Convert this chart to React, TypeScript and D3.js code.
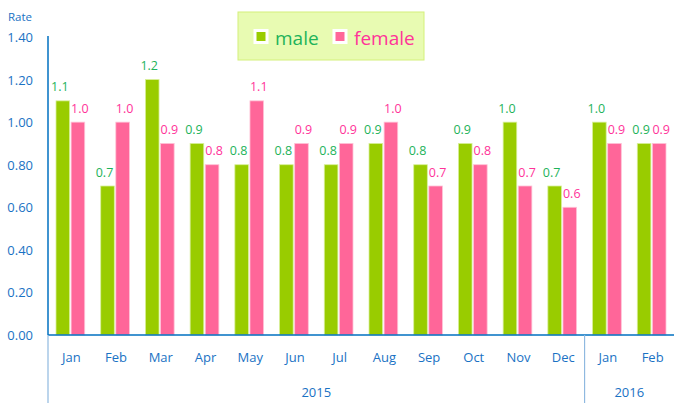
import React from "react";
import * as d3 from "d3";

const months = ["Jan","Feb","Mar","Apr","May","Jun","Jul","Aug","Sep","Oct","Nov","Dec","Jan","Feb"];
const maleValues = [1.1,0.7,1.2,0.9,0.8,0.8,0.8,0.9,0.8,0.9,1.0,0.7,1.0,0.9];
const femaleValues = [1.0,1.0,0.9,0.8,1.1,0.9,0.9,1.0,0.7,0.8,0.7,0.6,0.9,0.9];
const yTicks = [0,0.2,0.4,0.6,0.8,1.0,1.2,1.4];
const years = [{ label: "2015", start: 0, end: 12 }, { label: "2016", start: 12, end: 14 }];

const W = 674, H = 403;
const FONT = "'Open Sans', 'Noto Sans', sans-serif";
const AXIS = "#1a72c4";
const MALE = "#99cc00";
const FEMALE = "#ff6699";
const MALE_TXT = "#1db35a";
const FEMALE_TXT = "#ff3399";

export default function App() {
  const left = 48, right = 674, top = 37, bottom = 335;
  const x = d3.scaleBand<number>().domain(d3.range(months.length)).range([left, right]).paddingInner(0).paddingOuter(0);
  const y = d3.scaleLinear().domain([0, 1.4]).range([bottom, top]);
  const inner = d3.scaleBand<string>().domain(["m", "f"]).range([8, x.bandwidth() - 8]).paddingInner(0.1);
  const bw = inner.bandwidth();

  return (
    <svg width={W} height={H} style={{ position: "absolute", left: 0, top: 0 }} fontFamily={FONT}>
      <rect width={W} height={H} fill="#fff" />
      <text x={8} y={21} fontSize={11.5} fill={AXIS}>Rate</text>
      {yTicks.map((t) => (
        <text key={t} x={33} y={y(t) + 5} fontSize={13} fill={AXIS} textAnchor="end">{t.toFixed(2)}</text>
      ))}
      {months.map((m, i) => {
        const x0 = x(i)!;
        const mx = x0 + inner("m")!;
        const fx = x0 + inner("f")!;
        return (
          <g key={i}>
            <rect x={mx} y={y(maleValues[i])} width={bw} height={bottom - y(maleValues[i])} fill={MALE} stroke="#d8ef9a" strokeWidth={0.8} />
            <rect x={fx} y={y(femaleValues[i])} width={bw} height={bottom - y(femaleValues[i])} fill={FEMALE} stroke="#ffc2d6" strokeWidth={0.8} />
            <text x={mx + bw / 2 - 3} y={y(maleValues[i]) - 9.5} fontSize={12.5} fill={MALE_TXT} textAnchor="middle">{maleValues[i].toFixed(1)}</text>
            <text x={fx + bw / 2 + 2} y={y(femaleValues[i]) - 9.5} fontSize={12.5} fill={FEMALE_TXT} textAnchor="middle">{femaleValues[i].toFixed(1)}</text>
            <text x={x0 + x.bandwidth() / 2 + 1} y={362} fontSize={13} fill={AXIS} textAnchor="middle">{m}</text>
          </g>
        );
      })}
      <line x1={left} x2={left} y1={top - 1} y2={bottom} stroke="#0070c0" strokeWidth={1.5} />
      <line x1={left} x2={right} y1={bottom} y2={bottom} stroke="#0070c0" strokeWidth={1.5} />
      {years.map((yr) => {
        const s = x(yr.start)!;
        const e = yr.end < months.length ? x(yr.end)! : right;
        return (
          <g key={yr.label}>
            <line x1={s} x2={s} y1={bottom} y2={H} stroke="#8fb9e0" strokeWidth={1.2} />
            <text x={(s + e) / 2} y={397} fontSize={13} fill={AXIS} textAnchor="middle">{yr.label}</text>
          </g>
        );
      })}
      <g>
        <rect x={238} y={12} width={186} height={48} fill="#e8fbb2" stroke="#d4f07a" strokeWidth={1} />
        <rect x={255} y={30.5} width={12} height={12} fill={MALE} stroke="#fff" strokeWidth={3} />
        <text x={275} y={45} fontSize={19} fill={MALE_TXT}>male</text>
        <rect x={334} y={30.5} width={12} height={12} fill={FEMALE} stroke="#fff" strokeWidth={3} />
        <text x={354} y={45} fontSize={19} fill={FEMALE_TXT}>female</text>
      </g>
    </svg>
  );
}
